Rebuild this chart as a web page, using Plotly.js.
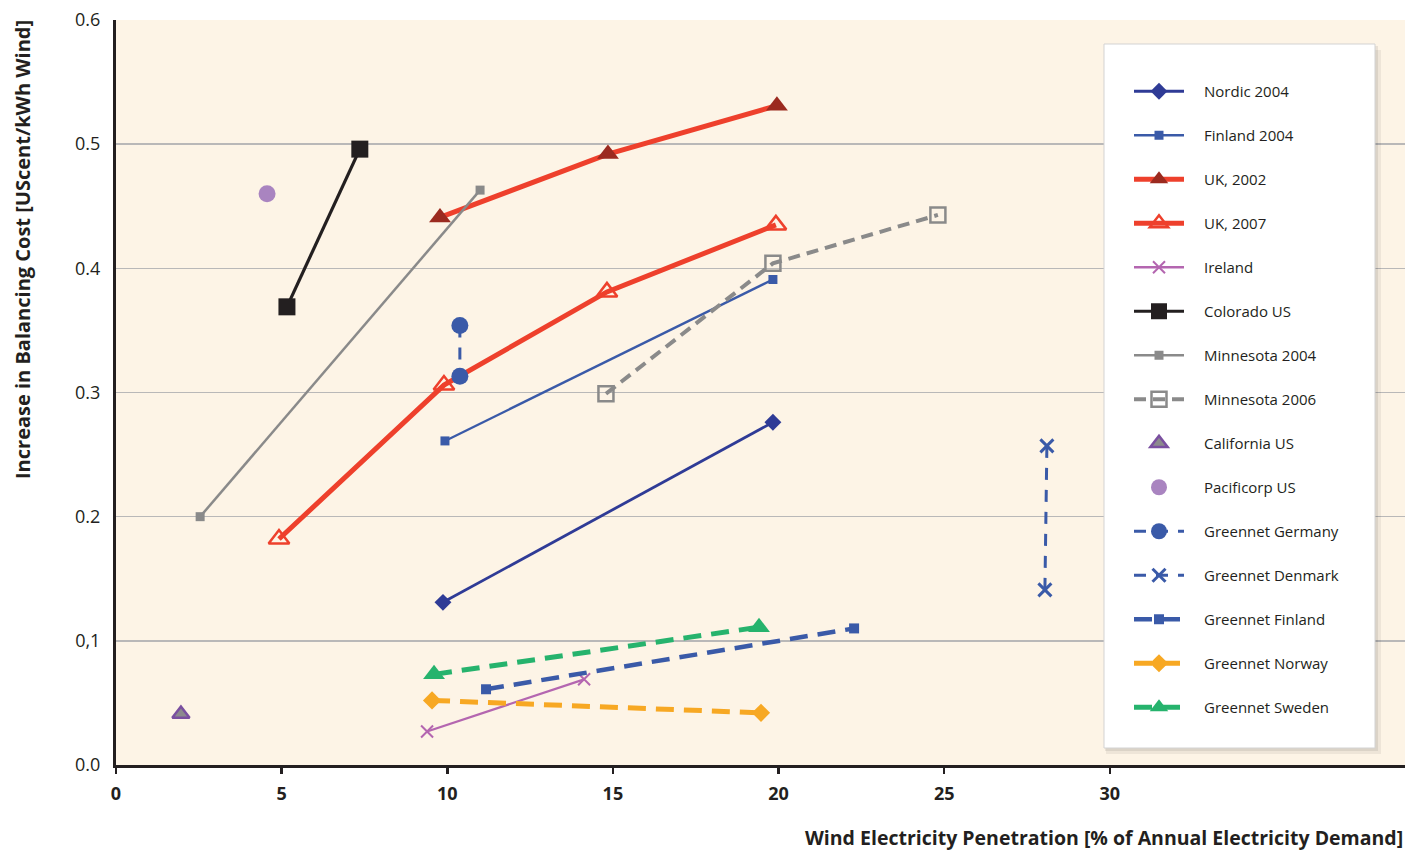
<!DOCTYPE html>
<html>
<head>
<meta charset="utf-8">
<script src="https://cdn.plot.ly/plotly-3.0.1.min.js"></script>
<style>html,body{margin:0;padding:0;background:#fff;}#chart{width:1418px;height:853px;}</style>
</head>
<body>
<div id="chart"></div>
<script>
// ---- data (x: wind penetration %, y: USc/kWh) ----
const seriesNames = ["Nordic 2004","Finland 2004","UK, 2002","UK, 2007","Ireland","Colorado US","Minnesota 2004","Minnesota 2006","California US","Pacificorp US","Greennet Germany","Greennet Denmark","Greennet Finland","Greennet Norway","Greennet Sweden"];

const nordic2004X = [9.87, 19.83];
const nordic2004Y = [0.131, 0.276];
const finland2004X = [9.93, 19.83];
const finland2004Y = [0.261, 0.391];
const uk2002X = [9.78, 14.85, 19.95];
const uk2002Y = [0.441, 0.492, 0.531];
const uk2007X = [4.92, 9.9, 14.82, 19.92];
const uk2007Y = [0.182, 0.306, 0.381, 0.435];
const irelandX = [9.39, 14.13];
const irelandY = [0.027, 0.069];
const coloradoX = [5.16, 7.36];
const coloradoY = [0.369, 0.496];
const minnesota2004X = [2.54, 10.99];
const minnesota2004Y = [0.200, 0.463];
const minnesota2006X = [14.79, 19.83, 24.81];
const minnesota2006Y = [0.299, 0.404, 0.443];
const californiaX = [1.96];
const californiaY = [0.041];
const pacificorpX = [4.56];
const pacificorpY = [0.460];
const gnGermanyX = [10.38, 10.38];
const gnGermanyY = [0.354, 0.313];
const gnDenmarkX = [28.1, 28.04];
const gnDenmarkY = [0.257, 0.141];
const gnFinlandX = [11.17, 22.28];
const gnFinlandY = [0.061, 0.110];
const gnNorwayX = [9.54, 19.47];
const gnNorwayY = [0.052, 0.042];
const gnSwedenX = [9.6, 19.41];
const gnSwedenY = [0.073, 0.111];

const yTickVals = [0, 0.1, 0.2, 0.3, 0.4, 0.5, 0.6];
const yTickText = ["0.0", "0,1", "0.2", "0.3", "0.4", "0.5", "0.6"];
const xTickVals = [0, 5, 10, 15, 20, 25, 30];
const xTickText = ["0", "5", "10", "15", "20", "25", "30"];

const xTitle = "Wind Electricity Penetration [% of Annual Electricity Demand]";
const yTitle = "Increase in Balancing Cost [UScent/kWh Wind]";

// ---- styles ----
const BLUE = "#3a5aa8", NAVY = "#2f3b96", RED = "#ee402c", DKRED = "#9b2a1f",
      PURP = "#b466b0", BLACK = "#231f20", GRAY = "#8a8a8a", ORANGE = "#f7a823", GREEN = "#26b36d";

function tr(i, x, y, line, marker, mode) {
  return {
    type: "scatter", x: x, y: y, name: "\u2003" + seriesNames[i], legendgroup: "g" + i,
    mode: mode || "lines+markers", line: line, marker: marker, cliponaxis: false
  };
}

const traces = [
  tr(0, nordic2004X, nordic2004Y, {color: NAVY, width: 2.8}, {symbol: "diamond", size: 13, color: NAVY}),
  tr(1, finland2004X, finland2004Y, {color: BLUE, width: 2.3}, {symbol: "square", size: 9, color: BLUE}),
  tr(2, uk2002X, uk2002Y, {color: RED, width: 5}, {symbol: "triangle-up", size: 19, color: DKRED}),
  tr(3, uk2007X, uk2007Y, {color: RED, width: 5}, {symbol: "triangle-up-open", size: 18, color: RED, line: {width: 2.5, color: RED}}),
  tr(4, irelandX, irelandY, {color: PURP, width: 2.3}, {symbol: "x-thin", size: 12, color: PURP, line: {width: 2, color: PURP}}),
  tr(5, coloradoX, coloradoY, {color: BLACK, width: 3.2}, {symbol: "square", size: 17, color: BLACK}),
  tr(6, minnesota2004X, minnesota2004Y, {color: GRAY, width: 2.5}, {symbol: "square", size: 9, color: GRAY}),
  tr(7, minnesota2006X, minnesota2006Y, {color: GRAY, width: 4, dash: "12px,7px"}, {symbol: "square-open", size: 15, color: GRAY, line: {width: 2.5, color: GRAY}}),
  tr(8, californiaX, californiaY, {color: "#7a4fa0", width: 2}, {symbol: "triangle-up", size: 15, color: "#8c8a8d", line: {width: 2.5, color: "#7a4fa0"}}, "markers"),
  tr(9, pacificorpX, pacificorpY, {color: "#a984c0", width: 2}, {symbol: "circle", size: 17, color: "#a984c0"}, "markers"),
  tr(10, gnGermanyX, gnGermanyY, {color: BLUE, width: 3, dash: "12px,10px"}, {symbol: "circle", size: 17, color: BLUE}),
  tr(11, gnDenmarkX, gnDenmarkY, {color: BLUE, width: 3, dash: "12px,10px"}, {symbol: "x-thin", size: 13, color: BLUE, line: {width: 3, color: BLUE}}),
  tr(12, gnFinlandX, gnFinlandY, {color: BLUE, width: 4.5, dash: "18px,10px"}, {symbol: "square", size: 10, color: BLUE}),
  tr(13, gnNorwayX, gnNorwayY, {color: ORANGE, width: 5, dash: "18px,10px"}, {symbol: "diamond", size: 14, color: ORANGE}),
  tr(14, gnSwedenX, gnSwedenY, {color: GREEN, width: 5, dash: "18px,10px"}, {symbol: "triangle-up", size: 19, color: GREEN})
];

// pixel helpers for paper coords (plot area: x 116..1405, y 20..765)
const px = p => (p - 116) / 1289;
const py = p => (765 - p) / 745;

const layout = {
  width: 1418, height: 853,
  margin: {l: 116, r: 13, t: 20, b: 88, pad: 0},
  paper_bgcolor: "#ffffff",
  plot_bgcolor: "#fdf4e6",
  font: {family: "Open Sans, Noto Sans, sans-serif", color: BLACK},
  showlegend: true,
  xaxis: {
    range: [0, 38.91], tickvals: xTickVals, ticktext: xTickText,
    showgrid: false, zeroline: false, showline: true, linecolor: BLACK, linewidth: 3,
    ticks: "outside", ticklen: 6, tickwidth: 2.5, tickcolor: BLACK,
    tickfont: {size: 18, weight: "bold", color: BLACK}, ticklabelstandoff: 4
  },
  yaxis: {
    range: [0, 0.6], tickvals: yTickVals, ticktext: yTickText,
    showgrid: true, gridcolor: "#b9b8b8", gridwidth: 1.5, zeroline: false,
    showline: true, linecolor: BLACK, linewidth: 3, ticks: "",
    tickfont: {size: 18, color: BLACK}, ticklabelstandoff: 9
  },
  legend: {
    x: px(1129), y: py(75), xanchor: "left", yanchor: "top",
    bgcolor: "rgba(0,0,0,0)", borderwidth: 0,
    font: {size: 15, color: BLACK},
    traceorder: "grouped", tracegroupgap: 21.5, itemwidth: 50
  },
  shapes: [
    {type: "rect", xref: "paper", yref: "paper", x0: px(1106), x1: px(1381), y0: py(50), y1: py(754), fillcolor: "rgba(0,0,0,0.06)", line: {width: 0}, layer: "above"},
    {type: "rect", xref: "paper", yref: "paper", x0: px(1105), x1: px(1378), y0: py(46), y1: py(751), fillcolor: "rgba(0,0,0,0.08)", line: {width: 0}, layer: "above"},
    {type: "rect", xref: "paper", yref: "paper", x0: px(1104), x1: px(1375), y0: py(44), y1: py(748), fillcolor: "#ffffff", line: {width: 1, color: "#d3d3d3"}, layer: "above"}
  ],
  annotations: [
    {text: yTitle, xref: "paper", yref: "paper", x: px(22), y: py(250), xanchor: "center", yanchor: "middle",
     textangle: -90, showarrow: false, font: {size: 20, weight: "bold", color: BLACK}},
    {text: xTitle, xref: "paper", yref: "paper", x: px(1405), y: py(837), xanchor: "right", yanchor: "middle",
     showarrow: false, font: {size: 19.5, weight: "bold", color: BLACK}}
  ]
};

Plotly.newPlot("chart", traces, layout, {displayModeBar: false, staticPlot: true});
</script>
</body>
</html>
